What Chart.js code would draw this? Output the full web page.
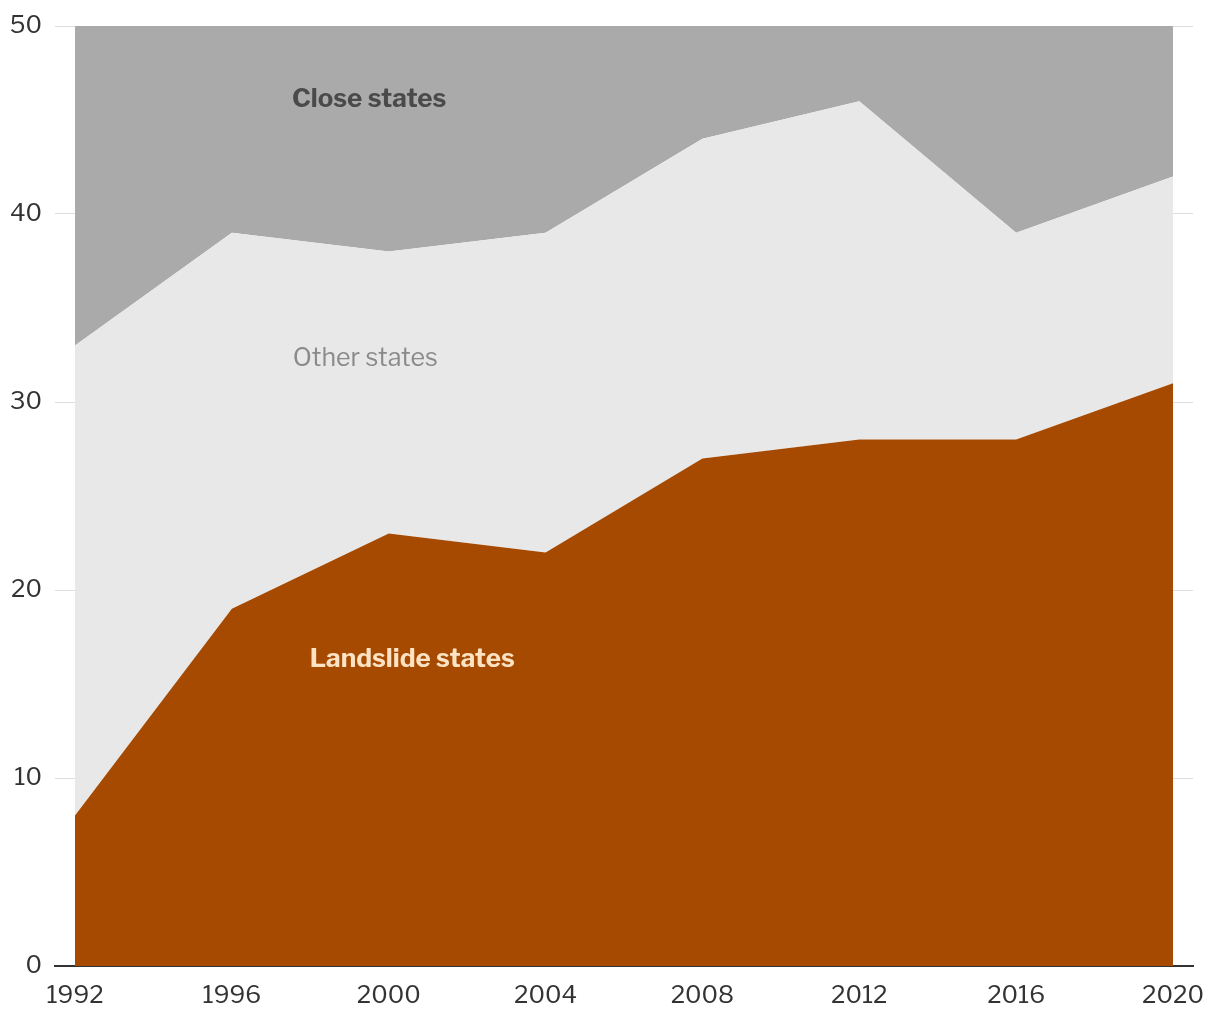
<!DOCTYPE html>
<html>
<head>
<meta charset="utf-8">
<script src="https://cdn.jsdelivr.net/npm/chart.js@4"></script>
<style>
  html, body { margin: 0; padding: 0; background: #fff; }
  #wrap { width: 1220px; height: 1020px; }
</style>
</head>
<body>
<div id="wrap"><canvas id="statesChart" width="1220" height="1020"></canvas></div>
<script>
// election years
const years = [1992, 1996, 2000, 2004, 2008, 2012, 2016, 2020];
// number of states in each group (stacked, bottom to top)
const landslide = [8, 19, 23, 22, 27, 28, 28, 31];
const other = [25, 20, 15, 17, 17, 18, 11, 11];
const close = [17, 11, 12, 11, 6, 4, 11, 8];
const yTicks = [0, 10, 20, 30, 40, 50];

// in-chart labels, placed in data units
const areaLabels = [
  { text: "Close states", x: 1999.5, y: 46.1, color: "#4a4a4a", weight: "bold", size: 26 },
  { text: "Other states", x: 1999.4, y: 32.3, color: "#8a8a8a", weight: "normal", size: 25 },
  { text: "Landslide states", x: 2000.6, y: 16.3, color: "#fde2c4", weight: "bold", size: 26 },
];

const fontFamily = "'Libre Franklin', 'Roboto', 'Liberation Sans', sans-serif";

function toPoints(values) {
  return values.map(function (v, i) {
    return { x: years[i], y: v };
  });
}

const labelPlugin = {
  id: "areaLabels",
  afterDatasetsDraw: function (chart) {
    const ctx = chart.ctx;
    const xs = chart.scales.x;
    const ys = chart.scales.y;
    ctx.save();
    ctx.textAlign = "center";
    ctx.textBaseline = "middle";
    areaLabels.forEach(function (l) {
      ctx.font = l.weight + " " + l.size + "px " + fontFamily;
      ctx.fillStyle = l.color;
      ctx.fillText(l.text, xs.getPixelForValue(l.x), ys.getPixelForValue(l.y));
    });
    ctx.restore();
  },
};

const ctx = document.getElementById("statesChart").getContext("2d");
new Chart(ctx, {
  type: "line",
  data: {
    datasets: [
      {
        label: "Landslide states",
        data: toPoints(landslide),
        backgroundColor: "#a54a00",
        borderWidth: 0,
        pointRadius: 0,
        fill: "origin",
      },
      {
        label: "Other states",
        data: toPoints(other),
        backgroundColor: "#e8e8e8",
        borderWidth: 0,
        pointRadius: 0,
        fill: "-1",
      },
      {
        label: "Close states",
        data: toPoints(close),
        backgroundColor: "#aaaaaa",
        borderWidth: 0,
        pointRadius: 0,
        fill: "-1",
      },
    ],
  },
  options: {
    responsive: false,
    animation: false,
    layout: { padding: { top: 26, right: 27, left: 0, bottom: 0 } },
    plugins: {
      legend: { display: false },
      tooltip: { enabled: false },
    },
    scales: {
      x: {
        type: "linear",
        min: 1991.49,
        max: 2020.51,
        grid: { display: false, drawTicks: false },
        border: { display: true, color: "#333333", width: 2 },
        afterBuildTicks: function (scale) {
          scale.ticks = years.map(function (v) { return { value: v }; });
        },
        afterFit: function (scale) {
          scale.height = 54;
          scale.paddingLeft = 0;
          scale.paddingRight = 0;
        },
        ticks: {
          color: "#333333",
          padding: 15,
          maxRotation: 0,
          autoSkip: false,
          font: { family: fontFamily, size: 24 },
          callback: function (v) { return String(v); },
        },
      },
      y: {
        stacked: true,
        min: 0,
        max: 50,
        afterBuildTicks: function (scale) {
          scale.ticks = yTicks.map(function (v) { return { value: v }; });
        },
        afterFit: function (scale) {
          scale.width = 55;
          scale.paddingTop = 0;
          scale.paddingBottom = 0;
        },
        grid: { color: "#dddddd", lineWidth: 1, drawTicks: false },
        border: { display: false },
        ticks: {
          color: "#333333",
          padding: 13,
          font: { family: fontFamily, size: 24 },
        },
      },
    },
  },
  plugins: [labelPlugin],
});
</script>
</body>
</html>
